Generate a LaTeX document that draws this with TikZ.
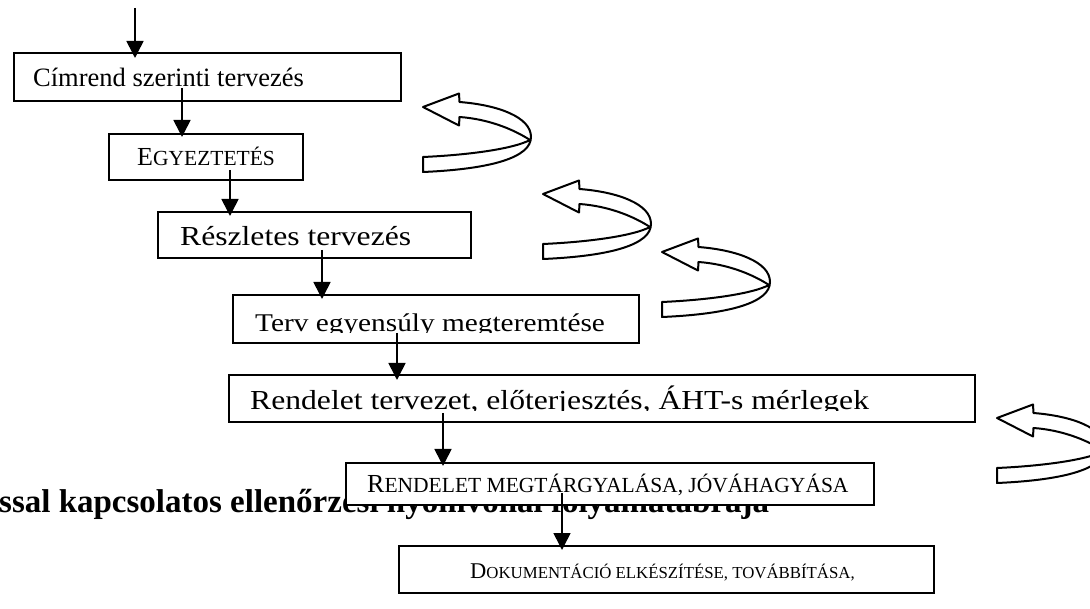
\documentclass[tikz,border=0pt]{standalone}
\usepackage{fontspec}
\setmainfont{Liberation Serif}
\newfontfamily\widefont[FakeStretch=1.15]{Liberation Serif}
\usetikzlibrary{arrows.meta}

% small capitals built from two sizes of capitals
\newcommand\capsmall[4]{{\fontsize{#1}{#1}\selectfont #3}{\fontsize{#2}{#2}\selectfont #4}}

\tikzset{
  frame/.style={draw, line width=1.7pt, fill=white, inner sep=0pt, anchor=north west},
  flow/.style={line width=1.6pt, -{Triangle[width=17pt,length=17pt]}},
  twist/.style={draw, line width=2pt, fill=white, line join=round},
  label/.style={anchor=base west, inner sep=0pt},
  turn/.pic={
    \path[twist] (0,0) -- (36,-13.5) -- (36.5,-5)
      .. controls (75,-2) and (108,10) .. (108,30)
      .. controls (108,50) and (70,62) .. (0,65)
      -- (0,50)
      .. controls (45,48) and (90,42) .. (107,33)
      .. controls (90,22) and (65,12) .. (36.5,10)
      -- (36,18.5) -- cycle;
  }
}

\begin{document}
\begin{tikzpicture}[x=1pt, y=-1pt]
\clip (0,0) rectangle (1090,609);
\fill[white] (0,0) rectangle (1090,609);

% heading line, partly covered by the boxes
\node[label, font=\fontsize{33}{36}\selectfont\bfseries] (title) at (-1,512)
  {ssal kapcsolatos ellenőrzési nyomvonal folyamatábrája};

% process boxes
\node[frame, minimum width=387pt, minimum height=48pt] (b1) at (13,52) {};
\node[frame, minimum width=194pt, minimum height=46pt] (b2) at (108,133) {};
\node[frame, minimum width=313pt, minimum height=46pt] (b3) at (157,211) {};
\node[frame, minimum width=406pt, minimum height=48pt] (b4) at (232,294) {};
\node[frame, minimum width=746pt, minimum height=47pt] (b5) at (228,374) {};
\node[frame, minimum width=528pt, minimum height=42pt] (b6) at (345,462) {};
\node[frame, minimum width=535pt, minimum height=47pt] (b7) at (398,545) {};

% box texts
\node[label, font=\fontsize{26.5}{30}\selectfont] (t1) at (33,87) {Címrend szerinti tervezés};
\node[label] (t2) at (137,166) {\capsmall{26}{21.5}{E}{GYEZTETÉS}};
\begin{scope}
  \clip (b3.north west) rectangle ([yshift=12pt]b3.south east);
  \node[label, font=\widefont\fontsize{27.5}{30}\selectfont] (t3) at (180,246) {Részletes tervezés};
\end{scope}
\begin{scope}
  \clip (b4.north west) rectangle ([yshift=11pt]b4.south east);
  \node[label, font=\widefont\fontsize{25.5}{30}\selectfont] (t4) at (255,332) {Terv egyensúly megteremtése};
\end{scope}
\begin{scope}
  \clip (b5.north west) rectangle ([yshift=12pt]b5.south east);
  \node[label, font=\widefont\fontsize{27.5}{30}\selectfont] (t5) at (250,410) {Rendelet tervezet, előterjesztés, ÁHT-s mérlegek};
\end{scope}
\node[label] (t6) at (367,493)
  {\capsmall{26}{21.5}{R}{ENDELET MEGTÁRGYALÁSA, JÓVÁHAGYÁSA}};
\node[label] (t7) at (470,578)
  {\capsmall{22.5}{16.8}{D}{OKUMENTÁCIÓ ELKÉSZÍTÉSE, TOVÁBBÍTÁSA,}};

% flow arrows
\coordinate (in0) at (135,8);
\coordinate (o1) at (182,88);
\coordinate (o2) at (230,170);
\coordinate (o3) at (322,250);
\coordinate (o4) at (397,333);
\coordinate (o5) at (443,413);
\coordinate (o6) at (562,493);
\draw[flow] (in0) -- ([yshift=-6pt]b1.north -| in0);
\draw[flow] (o1) -- ([yshift=-4pt]b2.north -| o1);
\draw[flow] (o2) -- ([yshift=-5pt]b3.north -| o2);
\draw[flow] (o3) -- ([yshift=-5pt]b4.north -| o3);
\draw[flow] (o4) -- ([yshift=-6pt]b5.north -| o4);
\draw[flow] (o5) -- ([yshift=-4pt]b6.north -| o5);
\draw[flow] (o6) -- ([yshift=-5pt]b7.north -| o6);

% turning-back ribbons
\pic (c1) at (423,107) {turn};
\pic (c2) at (543,194) {turn};
\pic (c3) at (662,252) {turn};
\pic (c4) at (997,418) {turn};
\end{tikzpicture}
\end{document}
